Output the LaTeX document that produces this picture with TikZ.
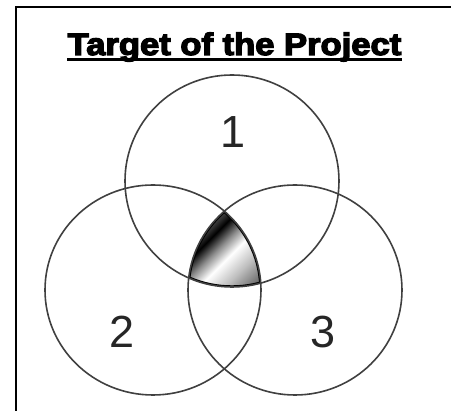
\documentclass[tikz,border=0pt]{standalone}
\usepackage{graphicx}
\usepackage{fontspec}
\setmainfont{Liberation Sans}
\newfontfamily\titlefont[FakeBold=4]{Liberation Sans Bold}
\pgfdeclarehorizontalshading{metal}{100bp}{%
  color(0bp)=(black!60); color(25bp)=(black!60); color(34bp)=(black!65);
  color(41bp)=(black); color(48bp)=(black!45); color(55bp)=(white);
  color(65bp)=(black!25); color(75bp)=(black!55); color(100bp)=(black!55)}
\begin{document}
\begin{tikzpicture}[x=1pt,y=-1pt,
  ring/.style={draw=black!75, line width=1.6pt},
  digit/.style={font=\fontsize{45}{45}\selectfont, text=black!85, inner sep=0pt},
  frameline/.style={line width=2.2pt, black}]
\useasboundingbox (0,0) rectangle (451,411);
% frame
\coordinate (fbl) at (16,430);
\coordinate (ftl) at (16,7);
\coordinate (ftr) at (470,7);
\draw[frameline] (fbl) -- (ftl) -- (ftr);
% title
\node[anchor=base, inner sep=0pt] (title) at (234.5,55)
  {\scalebox{1.115}[1]{\titlefont\fontsize{31}{31}\selectfont Target of the Project}};
\coordinate (ul1) at (67,59.5);
\coordinate (ul2) at (402,59.5);
\draw[line width=2.2pt] (ul1) -- (ul2);
% centres
\coordinate (c1) at (232,181);
\coordinate (c2) at (153,290);
\coordinate (c3) at (295,290);
% triple intersection shading
\begin{scope}
  \clip (c1) ellipse [x radius=107pt, y radius=106pt];
  \clip (c2) ellipse [x radius=108pt, y radius=105pt];
  \clip (c3) ellipse [x radius=107pt, y radius=105pt];
  \shade[shading=metal, shading angle=-45] (180,200) rectangle (270,295);
  \draw[black, line width=3.4pt] (c1) ellipse [x radius=107pt, y radius=106pt];
  \draw[black, line width=3.4pt] (c2) ellipse [x radius=108pt, y radius=105pt];
  \draw[black, line width=3.4pt] (c3) ellipse [x radius=107pt, y radius=105pt];
\end{scope}
% circles
\draw[ring] (c1) ellipse [x radius=107pt, y radius=106pt];
\draw[ring] (c2) ellipse [x radius=108pt, y radius=105pt];
\draw[ring] (c3) ellipse [x radius=107pt, y radius=105pt];
% digits
\node[digit] (d1) at (233,132) {1};
\node[digit] (d2) at (122,332) {2};
\node[digit] (d3) at (323,332) {3};
\end{tikzpicture}
\end{document}
